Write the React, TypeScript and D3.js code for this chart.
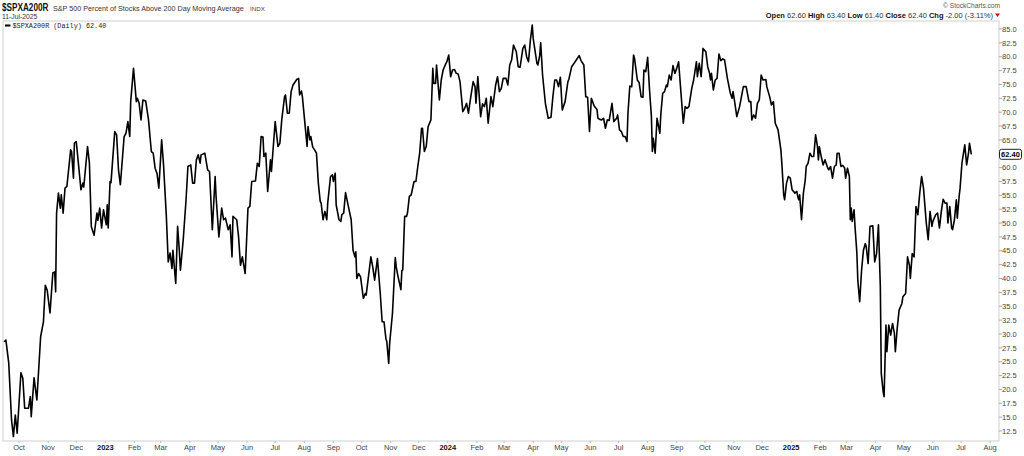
import React from "react";
import * as d3 from "d3";

type Pt = [string, number];

const seg2022: Pt[] = [
  ["2022-09-15", 28.6], ["2022-09-17", 28.9], ["2022-09-20", 24.8], ["2022-09-23", 14.5], ["2022-09-25", 11.5],
  ["2022-09-27", 15.4], ["2022-09-29", 12.1], ["2022-10-03", 23.0], ["2022-10-05", 22.0], ["2022-10-07", 16.6],
  ["2022-10-11", 16.6], ["2022-10-13", 18.7], ["2022-10-14", 15.1], ["2022-10-17", 22.1], ["2022-10-20", 18.1],
  ["2022-10-24", 29.5], ["2022-10-27", 32.2], ["2022-10-29", 38.8], ["2022-10-31", 37.9], ["2022-11-03", 33.8],
  ["2022-11-06", 41.0], ["2022-11-08", 41.2], ["2022-11-09", 37.6], ["2022-11-10", 51.8], ["2022-11-12", 55.4],
  ["2022-11-14", 52.7], ["2022-11-15", 55.1], ["2022-11-17", 51.8], ["2022-11-19", 56.3], ["2022-11-21", 56.6],
  ["2022-11-25", 63.2], ["2022-11-26", 62.9], ["2022-11-28", 58.1], ["2022-11-29", 64.4], ["2022-12-01", 64.7],
  ["2022-12-06", 56.0], ["2022-12-08", 57.2], ["2022-12-09", 56.5], ["2022-12-13", 63.8], ["2022-12-15", 60.8],
  ["2022-12-17", 49.4], ["2022-12-20", 47.8], ["2022-12-23", 51.8], ["2022-12-24", 50.5], ["2022-12-26", 52.7],
  ["2022-12-28", 49.1], ["2022-12-30", 52.4],
];

const seg2023: Pt[] = [
  ["2023-01-02", 49.7], ["2023-01-03", 53.3], ["2023-01-04", 49.1], ["2023-01-06", 57.5], ["2023-01-07", 57.3],
  ["2023-01-11", 66.5], ["2023-01-13", 65.9], ["2023-01-15", 59.6], ["2023-01-17", 56.9], ["2023-01-21", 65.6],
  ["2023-01-23", 66.2], ["2023-01-25", 68.3], ["2023-01-27", 65.6], ["2023-01-28", 71.9], ["2023-01-31", 77.9],
  ["2023-02-03", 71.9], ["2023-02-04", 72.5], ["2023-02-06", 71.6], ["2023-02-08", 68.6], ["2023-02-10", 72.2],
  ["2023-02-13", 72.0], ["2023-02-16", 68.6], ["2023-02-19", 62.9], ["2023-02-21", 62.6], ["2023-02-23", 59.9],
  ["2023-02-25", 59.0], ["2023-02-27", 56.3], ["2023-03-02", 65.0], ["2023-03-04", 60.5], ["2023-03-07", 51.2],
  ["2023-03-09", 43.0], ["2023-03-11", 44.6], ["2023-03-13", 41.8], ["2023-03-14", 45.1], ["2023-03-17", 39.1],
  ["2023-03-19", 49.4], ["2023-03-21", 44.6], ["2023-03-22", 41.5], ["2023-03-25", 47.0], ["2023-03-28", 54.2],
  ["2023-03-30", 60.2], ["2023-04-02", 60.5], ["2023-04-04", 57.2], ["2023-04-06", 57.2], ["2023-04-08", 61.4],
  ["2023-04-10", 62.3], ["2023-04-12", 60.8], ["2023-04-13", 62.3], ["2023-04-17", 62.6], ["2023-04-20", 59.6],
  ["2023-04-22", 59.3], ["2023-04-25", 48.8], ["2023-04-28", 58.4], ["2023-04-29", 54.8], ["2023-05-02", 47.5],
  ["2023-05-05", 52.7], ["2023-05-07", 50.6], ["2023-05-09", 50.9], ["2023-05-12", 48.8], ["2023-05-14", 49.7],
  ["2023-05-16", 43.9], ["2023-05-17", 51.2], ["2023-05-21", 50.6], ["2023-05-23", 47.5], ["2023-05-25", 42.4],
  ["2023-05-27", 43.9], ["2023-05-30", 40.9], ["2023-06-02", 52.7], ["2023-06-04", 53.0], ["2023-06-06", 57.5],
  ["2023-06-10", 57.6], ["2023-06-12", 60.8], ["2023-06-14", 60.2], ["2023-06-16", 65.6], ["2023-06-18", 65.5],
  ["2023-06-19", 62.0], ["2023-06-21", 62.6], ["2023-06-23", 55.7], ["2023-06-26", 61.4], ["2023-06-27", 59.3],
  ["2023-06-29", 63.8], ["2023-07-01", 68.3], ["2023-07-04", 63.8], ["2023-07-06", 64.4], ["2023-07-08", 68.6],
  ["2023-07-11", 72.8], ["2023-07-12", 73.1], ["2023-07-14", 69.8], ["2023-07-16", 69.8], ["2023-07-18", 73.7],
  ["2023-07-20", 74.9], ["2023-07-24", 75.9], ["2023-07-26", 76.1], ["2023-07-27", 73.1], ["2023-07-29", 73.8],
  ["2023-07-30", 72.8], ["2023-08-01", 69.2], ["2023-08-04", 63.8], ["2023-08-05", 67.4], ["2023-08-07", 65.0],
  ["2023-08-08", 65.6], ["2023-08-10", 63.7], ["2023-08-12", 63.2], ["2023-08-14", 62.6], ["2023-08-16", 57.2],
  ["2023-08-18", 53.9], ["2023-08-19", 53.6], ["2023-08-21", 50.6], ["2023-08-23", 52.1], ["2023-08-25", 50.6],
  ["2023-08-26", 53.6], ["2023-08-29", 58.4], ["2023-08-31", 58.7], ["2023-09-01", 57.5], ["2023-09-03", 59.0],
  ["2023-09-04", 53.3], ["2023-09-07", 50.6], ["2023-09-09", 50.3], ["2023-09-10", 51.5], ["2023-09-12", 51.8],
  ["2023-09-14", 55.5], ["2023-09-17", 53.0], ["2023-09-20", 50.6], ["2023-09-22", 45.1], ["2023-09-24", 43.9],
  ["2023-09-25", 44.8], ["2023-09-26", 40.0], ["2023-09-28", 40.9], ["2023-09-30", 40.3], ["2023-10-03", 36.4],
  ["2023-10-05", 37.3], ["2023-10-06", 37.0], ["2023-10-11", 43.9], ["2023-10-13", 42.1], ["2023-10-15", 39.7],
  ["2023-10-18", 43.6], ["2023-10-21", 37.3], ["2023-10-23", 32.2], ["2023-10-25", 32.2], ["2023-10-27", 29.2],
  ["2023-10-28", 28.6], ["2023-10-30", 24.7], ["2023-10-31", 28.3], ["2023-11-03", 33.7], ["2023-11-06", 43.8],
  ["2023-11-07", 42.1], ["2023-11-09", 40.3], ["2023-11-12", 38.0], ["2023-11-13", 41.4], ["2023-11-14", 41.6],
  ["2023-11-16", 51.2], ["2023-11-18", 51.2], ["2023-11-19", 51.8], ["2023-11-21", 54.8], ["2023-11-23", 55.1],
  ["2023-11-26", 57.5], ["2023-11-28", 57.5], ["2023-11-30", 60.2], ["2023-12-02", 62.6], ["2023-12-04", 67.1],
  ["2023-12-05", 67.1], ["2023-12-07", 62.9], ["2023-12-09", 63.8], ["2023-12-11", 67.4], ["2023-12-14", 68.6],
  ["2023-12-16", 77.9], ["2023-12-17", 75.2], ["2023-12-19", 75.2], ["2023-12-20", 78.5], ["2023-12-23", 72.2],
  ["2023-12-25", 75.8], ["2023-12-27", 77.6], ["2023-12-30", 78.8], ["2023-12-31", 79.1],
];

const seg2024: Pt[] = [
  ["2024-01-02", 80.3], ["2024-01-04", 76.4], ["2024-01-06", 77.6], ["2024-01-08", 77.7], ["2024-01-10", 77.0],
  ["2024-01-12", 76.9], ["2024-01-14", 75.5], ["2024-01-17", 70.1], ["2024-01-19", 70.7], ["2024-01-21", 71.6],
  ["2024-01-23", 69.8], ["2024-01-25", 72.2], ["2024-01-28", 75.5], ["2024-01-30", 74.6], ["2024-01-31", 71.6],
  ["2024-02-02", 76.4], ["2024-02-05", 69.2], ["2024-02-07", 71.5], ["2024-02-09", 71.0], ["2024-02-11", 72.5],
  ["2024-02-13", 68.0], ["2024-02-16", 72.8], ["2024-02-18", 71.0], ["2024-02-21", 74.9], ["2024-02-23", 76.4],
  ["2024-02-25", 73.7], ["2024-02-27", 74.3], ["2024-02-29", 76.1], ["2024-03-03", 76.1], ["2024-03-05", 74.9],
  ["2024-03-07", 78.5], ["2024-03-09", 79.4], ["2024-03-11", 82.1], ["2024-03-14", 80.9], ["2024-03-16", 78.2],
  ["2024-03-18", 78.1], ["2024-03-21", 81.5], ["2024-03-23", 82.1], ["2024-03-25", 80.0], ["2024-03-27", 79.1],
  ["2024-03-29", 83.0], ["2024-03-31", 85.7], ["2024-04-01", 83.3], ["2024-04-05", 78.8], ["2024-04-06", 78.5],
  ["2024-04-08", 80.3], ["2024-04-09", 82.5], ["2024-04-11", 76.7], ["2024-04-14", 71.6], ["2024-04-17", 68.9],
  ["2024-04-20", 69.1], ["2024-04-22", 72.8], ["2024-04-24", 75.8], ["2024-04-26", 75.8], ["2024-04-28", 74.6],
  ["2024-04-30", 76.3], ["2024-05-02", 70.4], ["2024-05-05", 71.9], ["2024-05-08", 75.5], ["2024-05-09", 75.9],
  ["2024-05-12", 78.2], ["2024-05-15", 78.9], ["2024-05-20", 80.2], ["2024-05-22", 79.3], ["2024-05-25", 78.5],
  ["2024-05-27", 72.8], ["2024-05-29", 72.7], ["2024-05-31", 66.5], ["2024-06-02", 72.5], ["2024-06-05", 71.1],
  ["2024-06-08", 70.5], ["2024-06-09", 68.9], ["2024-06-11", 68.7], ["2024-06-13", 68.6], ["2024-06-15", 68.9],
  ["2024-06-17", 67.1], ["2024-06-19", 68.6], ["2024-06-21", 68.5], ["2024-06-24", 71.6], ["2024-06-26", 68.3],
  ["2024-06-29", 68.9], ["2024-06-30", 69.5], ["2024-07-02", 66.8], ["2024-07-04", 66.5], ["2024-07-06", 65.6],
  ["2024-07-08", 65.6], ["2024-07-10", 64.7], ["2024-07-11", 69.8], ["2024-07-13", 74.7], ["2024-07-15", 74.6],
  ["2024-07-17", 80.3], ["2024-07-18", 79.7], ["2024-07-21", 75.8], ["2024-07-23", 75.3], ["2024-07-25", 72.8],
  ["2024-07-27", 72.7], ["2024-07-28", 77.6], ["2024-07-30", 77.3], ["2024-08-01", 79.9], ["2024-08-03", 74.0],
  ["2024-08-05", 69.2], ["2024-08-06", 62.9], ["2024-08-07", 65.3], ["2024-08-09", 62.6], ["2024-08-11", 68.9],
  ["2024-08-12", 68.0], ["2024-08-14", 66.2], ["2024-08-15", 69.5], ["2024-08-17", 73.4], ["2024-08-19", 73.7],
  ["2024-08-21", 74.9], ["2024-08-22", 74.6], ["2024-08-24", 76.7], ["2024-08-26", 75.8], ["2024-08-28", 78.4],
  ["2024-08-30", 77.0], ["2024-09-01", 77.9], ["2024-09-03", 79.1], ["2024-09-05", 74.6], ["2024-09-08", 68.0],
  ["2024-09-10", 71.0], ["2024-09-12", 70.7], ["2024-09-14", 71.0], ["2024-09-17", 74.3], ["2024-09-19", 75.8],
  ["2024-09-22", 79.1], ["2024-09-23", 76.4], ["2024-09-25", 78.8], ["2024-09-27", 76.4], ["2024-09-28", 78.8],
  ["2024-09-29", 81.5], ["2024-10-02", 80.9], ["2024-10-04", 78.2], ["2024-10-06", 77.0], ["2024-10-07", 75.8],
  ["2024-10-08", 77.0], ["2024-10-10", 74.0], ["2024-10-12", 75.8], ["2024-10-14", 76.1], ["2024-10-16", 80.5],
  ["2024-10-18", 79.3], ["2024-10-20", 79.6], ["2024-10-22", 79.4], ["2024-10-25", 76.1], ["2024-10-28", 73.5],
  ["2024-10-30", 72.5], ["2024-10-31", 73.7], ["2024-11-02", 71.6], ["2024-11-04", 69.2], ["2024-11-07", 71.0],
  ["2024-11-11", 74.6], ["2024-11-14", 74.6], ["2024-11-17", 71.9], ["2024-11-19", 71.9], ["2024-11-20", 68.6],
  ["2024-11-22", 69.5], ["2024-11-24", 68.9], ["2024-11-26", 71.6], ["2024-11-28", 72.2], ["2024-11-30", 76.7],
  ["2024-12-02", 75.8], ["2024-12-05", 75.9], ["2024-12-06", 74.6], ["2024-12-09", 72.8], ["2024-12-11", 71.3],
  ["2024-12-13", 71.9], ["2024-12-15", 68.0], ["2024-12-18", 66.8], ["2024-12-21", 63.2], ["2024-12-22", 60.8],
  ["2024-12-24", 55.1], ["2024-12-25", 54.2], ["2024-12-27", 57.2], ["2024-12-29", 58.4], ["2024-12-31", 58.1],
];

const seg2025: Pt[] = [
  ["2025-01-02", 56.0], ["2025-01-05", 55.4], ["2025-01-07", 55.7], ["2025-01-08", 54.8], ["2025-01-09", 54.2],
  ["2025-01-10", 55.1], ["2025-01-12", 50.6], ["2025-01-14", 55.4], ["2025-01-16", 57.8], ["2025-01-17", 60.2],
  ["2025-01-19", 60.8], ["2025-01-21", 62.6], ["2025-01-23", 62.0], ["2025-01-25", 62.0], ["2025-01-27", 65.9],
  ["2025-01-29", 63.8], ["2025-01-30", 61.4], ["2025-01-31", 63.8], ["2025-02-02", 62.0], ["2025-02-04", 60.5],
  ["2025-02-06", 61.4], ["2025-02-09", 59.9], ["2025-02-10", 59.6], ["2025-02-12", 60.2], ["2025-02-14", 58.1],
  ["2025-02-16", 60.2], ["2025-02-18", 60.5], ["2025-02-19", 62.6], ["2025-02-21", 62.6], ["2025-02-23", 60.2],
  ["2025-02-25", 60.4], ["2025-02-27", 59.9], ["2025-02-28", 58.1], ["2025-03-02", 59.9], ["2025-03-04", 58.4],
  ["2025-03-05", 50.6], ["2025-03-06", 52.7], ["2025-03-07", 50.3], ["2025-03-09", 52.4], ["2025-03-10", 49.4],
  ["2025-03-12", 44.6], ["2025-03-13", 39.7], ["2025-03-15", 35.8], ["2025-03-17", 41.5], ["2025-03-19", 45.1],
  ["2025-03-21", 46.3], ["2025-03-22", 45.7], ["2025-03-24", 42.7], ["2025-03-26", 49.4], ["2025-03-29", 49.5],
  ["2025-03-31", 43.0], ["2025-04-02", 44.5], ["2025-04-04", 49.7], ["2025-04-06", 38.5], ["2025-04-07", 22.9],
  ["2025-04-09", 19.6], ["2025-04-10", 18.7], ["2025-04-12", 31.6], ["2025-04-13", 26.8], ["2025-04-15", 31.6],
  ["2025-04-17", 29.8], ["2025-04-19", 31.9], ["2025-04-21", 30.1], ["2025-04-22", 26.8], ["2025-04-24", 31.0],
  ["2025-04-26", 34.3], ["2025-04-29", 35.5], ["2025-04-30", 36.7], ["2025-05-03", 37.3], ["2025-05-05", 43.9],
  ["2025-05-07", 42.4], ["2025-05-08", 40.0], ["2025-05-10", 44.5], ["2025-05-12", 43.9], ["2025-05-14", 53.0],
  ["2025-05-16", 51.5], ["2025-05-18", 55.4], ["2025-05-20", 58.4], ["2025-05-22", 56.3], ["2025-05-25", 50.0],
  ["2025-05-27", 47.0], ["2025-05-29", 52.1], ["2025-05-31", 49.4], ["2025-06-01", 50.3], ["2025-06-04", 51.5],
  ["2025-06-06", 51.8], ["2025-06-08", 49.1], ["2025-06-10", 52.1], ["2025-06-12", 54.3], ["2025-06-14", 53.6],
  ["2025-06-16", 53.6], ["2025-06-17", 50.0], ["2025-06-19", 53.0], ["2025-06-21", 49.1], ["2025-06-22", 48.8],
  ["2025-06-24", 50.6], ["2025-06-26", 54.2], ["2025-06-27", 50.9], ["2025-06-29", 54.8], ["2025-06-30", 56.3],
  ["2025-07-02", 60.8], ["2025-07-05", 64.1], ["2025-07-07", 60.5], ["2025-07-09", 62.6], ["2025-07-10", 64.4],
  ["2025-07-12", 62.4],
];

const yTickValues: number[] = d3.range(12.5, 85.01, 2.5);
const monthLabels: string[] = ["Jan", "Feb", "Mar", "Apr", "May", "Jun", "Jul", "Aug", "Sep", "Oct", "Nov", "Dec"];
const ohlc: [string, string][] = [["Open", "62.60"], ["High", "63.40"], ["Low", "61.40"], ["Close", "62.40"]];
const lastValue = 62.4;

const parse = d3.timeParse("%Y-%m-%d");

export default function App() {
  const W = 1024, H = 456;
  const left = 3, right = 999, top = 21, bottom = 441;
  const data = [...seg2022, ...seg2023, ...seg2024, ...seg2025].map(([d, v]) => ({ date: parse(d)!, v }));

  const x = d3.scaleTime()
    .domain([new Date(2022, 8, 1), new Date(2025, 7, 1)])
    .range([-9.1, 990.1]);
  const y = d3.scaleLinear().domain([10.7, 86.44]).range([bottom, top]);

  const line = d3.line<{ date: Date; v: number }>()
    .x(d => x(d.date))
    .y(d => y(d.v))
    .curve(d3.curveLinear);

  const months = d3.timeMonth.range(new Date(2022, 9, 1), new Date(2025, 7, 2));
  const sans = "'Liberation Sans', Arial, sans-serif";

  return (
    <svg width={W} height={H} style={{ position: "absolute", left: 0, top: 0, background: "#fff" }} fontFamily={sans}>
      <rect x={0} y={0} width={W} height={H} fill="#fff" />
      {/* header */}
      <text transform="translate(2,10.6) scale(0.78,1)" fontSize={10.5} fontWeight="bold" fill="#111">$SPXA200R</text>
      <text x={53} y={11} fontSize={7.2} fill="#333">S&amp;P 500 Percent of Stocks Above 200 Day Moving Average</text>
      <text x={250} y={11} fontSize={6.2} fill="#444">INDX</text>
      <text x={2} y={19.3} fontSize={6.8} fill="#333">11-Jul-2025</text>
      <text x={1000} y={7.5} fontSize={6.6} fill="#555" textAnchor="end">© StockCharts.com</text>
      <text x={993} y={17.5} fontSize={7.5} fill="#333" textAnchor="end">
        {ohlc.map(([k, v]) => (
          <React.Fragment key={k}>
            <tspan fontWeight="bold" fill="#111">{k}</tspan>
            <tspan> {v}  </tspan>
          </React.Fragment>
        ))}
        <tspan fontWeight="bold" fill="#111">Chg</tspan>
        <tspan> -2.00 (-3.11%)</tspan>
      </text>
      <path d="M995,13.5 L1000,13.5 L997.5,17 Z" fill="#d00" />

      {/* plot frame */}
      <rect x={left} y={top} width={right - left} height={bottom - top} fill="none" stroke="#cfcfcf" strokeWidth={1} />

      {/* legend */}
      <line x1={5} x2={10.5} y1={25.5} y2={25.5} stroke="#000" strokeWidth={2} />
      <text x={12.5} y={27.8} fontSize={6.8} fontFamily="'Liberation Mono', 'DejaVu Sans Mono', monospace" fill="#222">$SPXA200R (Daily) 62.40</text>

      {/* y axis */}
      {yTickValues.map(v => (
        <g key={v}>
          <line x1={right} x2={right + 3} y1={y(v)} y2={y(v)} stroke="#aaa" />
          {Math.abs(v - 62.5) > 0.01 && (
            <text x={1002} y={y(v) + 2.7} fontSize={7.5} fill="#444">{v.toFixed(1)}</text>
          )}
        </g>
      ))}
      {/* last value tag */}
      <rect x={999.5} y={y(lastValue) - 5} width={22} height={10} rx={2} fill="#fff" stroke="#222" strokeWidth={1} />
      <text x={1010.5} y={y(lastValue) + 3} fontSize={7.5} fontWeight="bold" fill="#000" textAnchor="middle">62.40</text>

      {/* x axis */}
      {months.map(m => {
        const isYear = m.getMonth() === 0;
        const label = isYear ? String(m.getFullYear()) : monthLabels[m.getMonth()];
        return (
          <g key={m.toISOString()}>
            <line x1={x(m)} x2={x(m)} y1={bottom} y2={bottom + 2} stroke="#bbb" />
            <text x={x(m)} y={449.5} fontSize={7.5} textAnchor="middle" fontWeight={isYear ? "bold" : "normal"} fill={isYear ? "#111" : "#444"}>{label}</text>
          </g>
        );
      })}

      {/* series */}
      <path d={line(data) || ""} fill="none" stroke="#000" strokeWidth={1.6} strokeLinejoin="round" />
    </svg>
  );
}
